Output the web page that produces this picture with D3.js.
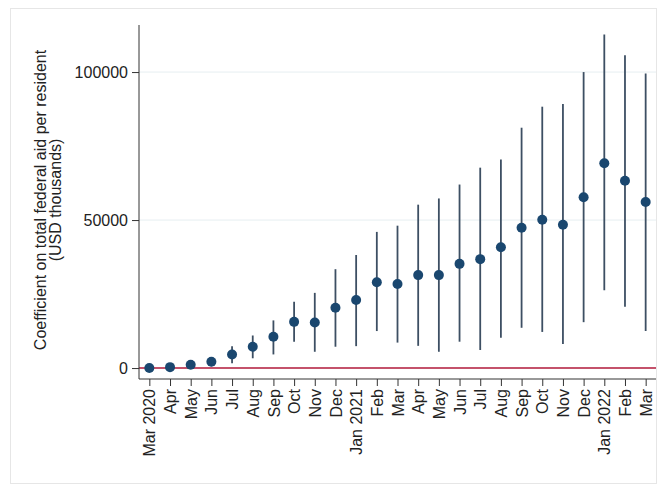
<!DOCTYPE html>
<html>
<head>
<meta charset="utf-8">
<script src="https://cdn.jsdelivr.net/npm/d3@7"></script>
<style>
  body { margin: 0; background: #fff; }
  svg { display: block; font-family: "Liberation Sans", Arial, sans-serif; }
</style>
</head>
<body>
<div id="chart"></div>
<script>
const months = ["Mar 2020", "Apr", "May", "Jun", "Jul", "Aug", "Sep", "Oct", "Nov", "Dec",
  "Jan 2021", "Feb", "Mar", "Apr", "May", "Jun", "Jul", "Aug", "Sep", "Oct", "Nov", "Dec",
  "Jan 2022", "Feb", "Mar"];
const coef = [0, 300, 1100, 2100, 4600, 7200, 10600, 15600, 15400, 20400,
  23000, 29000, 28400, 31400, 31400, 35200, 36800, 40800, 47400, 50100, 48400, 57700,
  69200, 63300, 56100];
const ciLow = [-400, -300, 200, 600, 1600, 3300, 4600, 8900, 5500, 7200,
  7400, 12500, 8600, 7500, 5500, 8900, 6100, 10200, 13600, 12200, 8100, 15500,
  26300, 20700, 12500];
const ciHigh = [400, 900, 2000, 3600, 7400, 11000, 16100, 22400, 25400, 33400,
  38200, 46000, 48100, 55200, 57300, 62000, 67700, 70500, 81200, 88300, 89200, 100000,
  112700, 105700, 99500];
const yTicks = [0, 50000, 100000];

const width = 660, height = 485;
const margin = { top: 25, right: 4, bottom: 106, left: 139 };

const svg = d3.select("#chart").append("svg")
  .attr("width", width).attr("height", height);

// outer graph region frame
svg.append("rect")
  .attr("x", 10.5).attr("y", 8.5)
  .attr("width", 646).attr("height", 475)
  .attr("fill", "#fff").attr("stroke", "#e6e6e6");

const x = d3.scalePoint()
  .domain(d3.range(months.length))
  .range([margin.left, width - margin.right])
  .padding(0.5);

const y = d3.scaleLinear()
  .domain([-3700, 115900])
  .range([height - margin.bottom, margin.top]);

// gridlines
svg.append("g")
  .selectAll("line")
  .data(yTicks.filter((d) => d > 0))
  .join("line")
  .attr("x1", margin.left).attr("x2", width - margin.right)
  .attr("y1", (d) => y(d)).attr("y2", (d) => y(d))
  .attr("stroke", "#e6eef1").attr("stroke-width", 1);

// zero reference line
svg.append("line")
  .attr("x1", margin.left).attr("x2", width - margin.right)
  .attr("y1", y(0)).attr("y2", y(0))
  .attr("stroke", "#b0183a").attr("stroke-width", 1.5);

// y axis
const gY = svg.append("g")
  .attr("transform", `translate(${margin.left},0)`)
  .call(d3.axisLeft(y).tickValues(yTicks).tickFormat(d3.format("d")).tickSize(7).tickPadding(4))
  .call((g) => g.selectAll("line, path").attr("stroke", "#333"))
  .call((g) => g.selectAll("text").attr("font-size", 16).attr("fill", "#222"));
gY.select(".domain").attr("d", `M0,${margin.top}V${height - margin.bottom}`);

// x axis
const gX = svg.append("g")
  .attr("transform", `translate(0,${height - margin.bottom})`)
  .call(d3.axisBottom(x).tickFormat((i) => months[i]).tickSize(7).tickSizeOuter(0))
  .call((g) => g.selectAll("line, path").attr("stroke", "#333"))
  .call((g) => g.select(".domain").attr("d", `M${margin.left},0H${width - margin.right}`))
  .call((g) =>
    g.selectAll(".tick text")
      .attr("font-size", 16).attr("fill", "#222")
      .attr("transform", "rotate(-90)")
      .attr("text-anchor", "end")
      .attr("x", -10).attr("y", 0).attr("dy", "0.35em")
  );

// y title
svg.append("text")
  .attr("transform", `translate(46,200) rotate(-90)`)
  .attr("text-anchor", "middle")
  .attr("font-size", 16).attr("fill", "#222")
  .call((t) => t.append("tspan").attr("x", 0).attr("dy", 0)
    .text("Coefficient on total federal aid per resident"))
  .call((t) => t.append("tspan").attr("x", 0).attr("dy", "0.95em")
    .text("(USD thousands)"));

// confidence intervals
svg.append("g")
  .selectAll("line")
  .data(months.map((m, i) => i))
  .join("line")
  .attr("x1", (i) => x(i)).attr("x2", (i) => x(i))
  .attr("y1", (i) => y(ciLow[i])).attr("y2", (i) => y(ciHigh[i]))
  .attr("stroke", "#3d4f63").attr("stroke-width", 1.8);

// point estimates
svg.append("g")
  .selectAll("circle")
  .data(months.map((m, i) => i))
  .join("circle")
  .attr("cx", (i) => x(i)).attr("cy", (i) => y(coef[i]))
  .attr("r", 5)
  .attr("fill", "#1a476f");
</script>
</body>
</html>
